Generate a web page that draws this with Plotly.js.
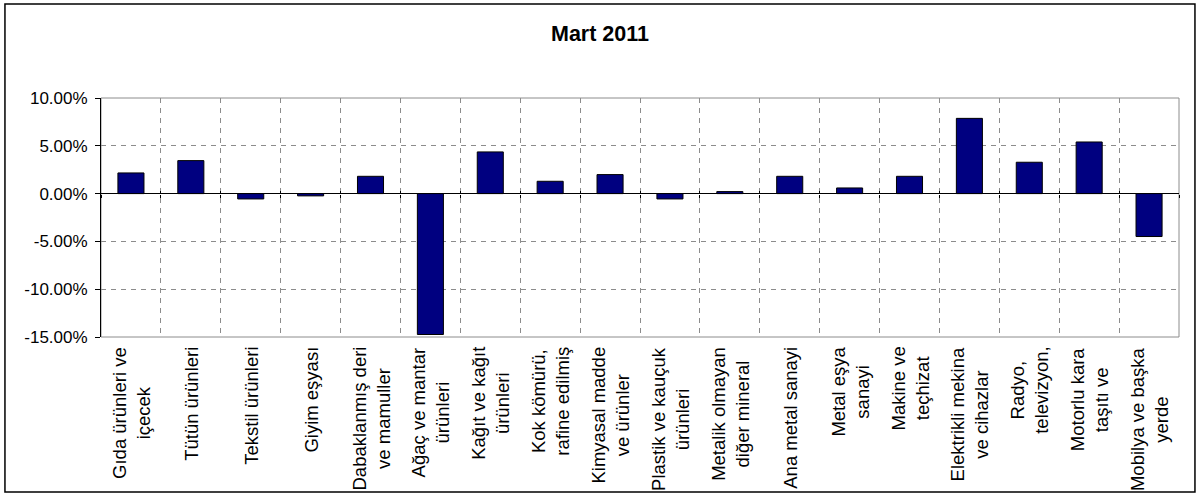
<!DOCTYPE html>
<html>
<head>
<meta charset="utf-8">
<script src="https://cdn.plot.ly/plotly-3.0.1.min.js"></script>
<style>
html,body{margin:0;padding:0;background:#fff;}
#chart{width:1198px;height:497px;}
</style>
</head>
<body>
<div id="chart"></div>
<script>
// Data
var categories = [
  "Gıda ürünleri ve içecek",
  "Tütün ürünleri",
  "Tekstil ürünleri",
  "Giyim eşyası",
  "Dabaklanmış deri ve mamuller",
  "Ağaç ve mantar ürünleri",
  "Kağıt ve kağıt ürünleri",
  "Kok kömürü, rafine edilmiş",
  "Kimyasal madde ve ürünler",
  "Plastik ve kauçuk ürünleri",
  "Metalik olmayan diğer mineral",
  "Ana metal sanayi",
  "Metal eşya sanayi",
  "Makine ve teçhizat",
  "Elektrikli mekina ve cihazlar",
  "Radyo, televizyon,",
  "Motorlu kara taşıtı ve",
  "Mobilya ve başka yerde"
];
var tickLabels = [
  "Gıda ürünleri ve<br>içecek",
  "Tütün ürünleri",
  "Tekstil ürünleri",
  "Giyim eşyası",
  "Dabaklanmış deri<br>ve mamuller",
  "Ağaç ve mantar<br>ürünleri",
  "Kağıt ve kağıt<br>ürünleri",
  "Kok kömürü,<br>rafine edilmiş",
  "Kimyasal madde<br>ve ürünler",
  "Plastik ve kauçuk<br>ürünleri",
  "Metalik olmayan<br>diğer mineral",
  "Ana metal sanayi",
  "Metal eşya<br>sanayi",
  "Makine ve<br>teçhizat",
  "Elektrikli mekina<br>ve cihazlar",
  "Radyo,<br>televizyon,",
  "Motorlu kara<br>taşıtı ve",
  "Mobilya ve başka<br>yerde"
];
var values = [2.16, 3.45, -0.56, -0.24, 1.81, -14.74, 4.36, 1.29, 1.99, -0.56, 0.21, 1.81, 0.59, 1.81, 7.87, 3.28, 5.40, -4.49];
var yTickVals = [-15, -10, -5, 0, 5, 10];
var yTickText = ["-15.00%", "-10.00%", "-5.00%", "0.00%", "5.00%", "10.00%"];
var chartTitle = "Mart 2011";

var FONT = "Liberation Sans, Arial, sans-serif";

var traces = [
  {
    type: "bar",
    x: categories,
    y: values,
    marker: {color: "#000080", line: {color: "#000000", width: 1}},
    hoverinfo: "skip"
  },
  {
    type: "scatter", mode: "markers",
    x: categories, y: values, xaxis: "x2", yaxis: "y",
    marker: {opacity: 0}, hoverinfo: "skip", showlegend: false
  },
  {
    type: "scatter", mode: "markers",
    x: categories, y: values, xaxis: "x3", yaxis: "y",
    marker: {opacity: 0}, hoverinfo: "skip", showlegend: false
  }
];

var annotations = categories.map(function(c, i) {
  return {
    x: c, xref: "x",
    y: 0, yref: "paper",
    yanchor: "top", xanchor: "center",
    yshift: -8,
    text: tickLabels[i],
    textangle: -90,
    align: "center",
    showarrow: false,
    font: {family: FONT, size: 18.5, color: "#000"}
  };
});
annotations.push({
  x: 0.4629, xref: "paper", y: 1, yref: "paper",
  yanchor: "middle", yshift: 64,
  text: "<b>" + chartTitle + "</b>",
  showarrow: false,
  font: {family: FONT, size: 21.5, color: "#000"}
});

var baseCat = {
  type: "category",
  categoryorder: "array",
  categoryarray: categories,
  range: [-0.5, categories.length - 0.5],
  fixedrange: true
};

var layout = {
  width: 1198, height: 497,
  margin: {l: 101, r: 19, t: 98, b: 160, pad: 0},
  paper_bgcolor: "#fff", plot_bgcolor: "#fff",
  showlegend: false,
  bargap: 0.565,
  font: {family: FONT, size: 17, color: "#000"},
  xaxis: Object.assign({}, baseCat, {
    tickson: "boundaries",
    showgrid: true, gridcolor: "#8c8c8c", griddash: "5px,5px", gridwidth: 1,
    showticklabels: false, ticks: "",
    showline: false, zeroline: false
  }),
  xaxis2: Object.assign({}, baseCat, {
    overlaying: "x", anchor: "free", position: 0.6,
    tickson: "boundaries", ticks: "outside", ticklen: 3, tickcolor: "#000", tickwidth: 1,
    showticklabels: false, showgrid: false, showline: false, zeroline: false
  }),
  xaxis3: Object.assign({}, baseCat, {
    overlaying: "x", anchor: "free", position: 0.6,
    tickson: "boundaries", ticks: "inside", ticklen: 3, tickcolor: "#000", tickwidth: 1,
    showticklabels: false, showgrid: false, showline: false, zeroline: false
  }),
  yaxis: {
    range: [-15, 10],
    tickmode: "array",
    tickvals: yTickVals,
    ticktext: yTickText,
    ticks: "outside", ticklen: 5, tickcolor: "#000", tickwidth: 1,
    ticklabelstandoff: 4,
    showgrid: true, gridcolor: "#8c8c8c", griddash: "5px,5px", gridwidth: 1,
    showline: true, linecolor: "#000", linewidth: 1,
    zeroline: true, zerolinecolor: "#000", zerolinewidth: 1,
    tickfont: {family: FONT, size: 17, color: "#000"},
    fixedrange: true
  },
  shapes: [
    {type: "rect", xref: "paper", yref: "paper", x0: 0, x1: 1, y0: 0, y1: 1,
     line: {color: "#8c8c8c", width: 1}, layer: "below"},
    {type: "rect", xref: "paper", yref: "paper",
     x0: -0.0891, x1: 1.0148, y0: -0.6485, y1: 1.393,
     line: {color: "#000", width: 1.5}}
  ],
  annotations: annotations
};

Plotly.newPlot("chart", traces, layout, {displayModeBar: false, staticPlot: true});
</script>
</body>
</html>
